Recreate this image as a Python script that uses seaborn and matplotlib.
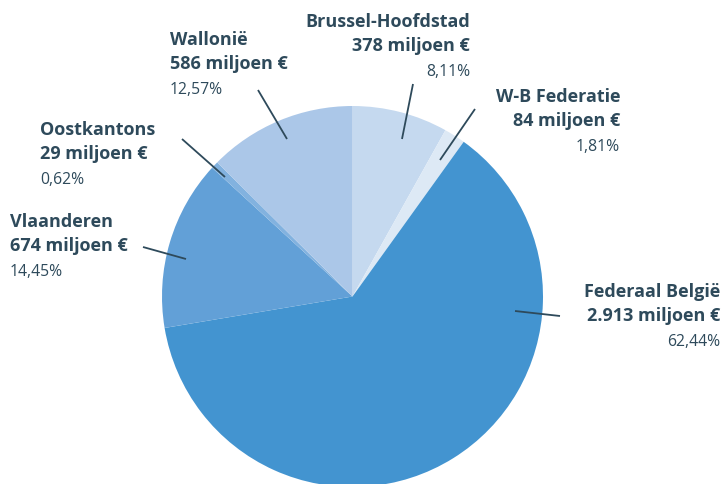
import matplotlib
matplotlib.use("Agg")
import matplotlib.pyplot as plt
import seaborn as sns

# ---- data ----
regions = ["Brussel-Hoofdstad", "W-B Federatie", "Federaal België",
           "Vlaanderen", "Oostkantons", "Wallonië"]
amounts = ["378", "84", "2.913", "674", "29", "586"]
shares = [8.11, 1.81, 62.44, 14.45, 0.62, 12.57]
share_labels = ["8,11%", "1,81%", "62,44%", "14,45%", "0,62%", "12,57%"]

colors = ["#c5d9ef", "#dde9f5", "#4394d0", "#62a0d7", "#82b2df", "#abc7e8"]

sns.set_theme(style="white")
plt.rcParams["font.family"] = ["Open Sans", "DejaVu Sans"]

W, H = 723, 485
fig = plt.figure(figsize=(W / 100, H / 100), dpi=100)
ax = fig.add_axes([0, 0, 1, 1])
ax.set_xlim(0, W)
ax.set_ylim(0, H)
ax.set_aspect("equal")
ax.axis("off")

cx, cy, R = 352.5, H - 297.5, 190.5
ax.pie(shares, colors=colors, startangle=90, counterclock=False,
       center=(cx, cy), radius=R, frame=True,
       wedgeprops=dict(linewidth=0))
ax.set_xlim(0, W)
ax.set_ylim(0, H)
ax.axis("off")

txt = "#2e4a5b"
# label layout: (x, y of first line in image px, ha, leader line start, end)
layout = {
    "Brussel-Hoofdstad": (470, 22, "right", (413, 85), (402, 140)),
    "W-B Federatie": (620, 97, "right", (475, 110), (440, 161)),
    "Federaal België": (720, 292, "right", (560, 317), (515, 312)),
    "Vlaanderen": (10, 222, "left", (143, 248), (186, 260)),
    "Oostkantons": (40, 130, "left", (182, 140), (225, 178)),
    "Wallonië": (170, 40, "left", (258, 91), (287, 140)),
}

for name, amt, pct in zip(regions, amounts, share_labels):
    x, y, ha, p0, p1 = layout[name]
    ax.text(x, H - y, name, ha=ha, va="center", fontsize=13,
            fontweight="bold", color=txt)
    ax.text(x, H - y - 24, f"{amt} miljoen €", ha=ha, va="center",
            fontsize=13, fontweight="bold", color=txt)
    ax.text(x, H - y - 50, pct, ha=ha, va="center", fontsize=11.3,
            color=txt)
    ax.plot([p0[0], p1[0]], [H - p0[1], H - p1[1]], color=txt, lw=1.3,
            solid_capstyle="butt")

fig.savefig("out.png", dpi=100)
